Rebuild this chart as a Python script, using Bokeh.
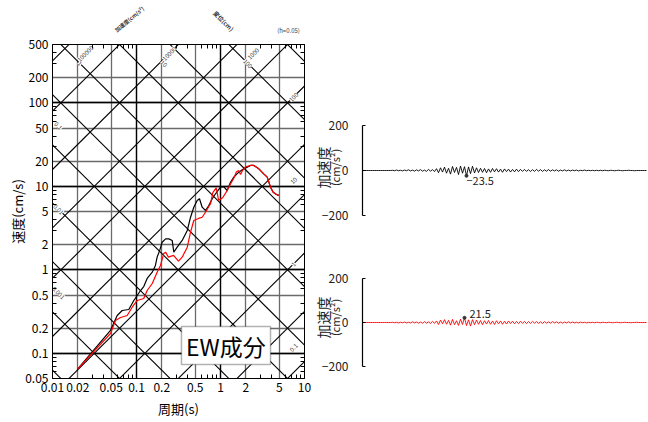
import math
import numpy as np
from bokeh.plotting import figure
from bokeh.models import FixedTicker, LogAxis, LinearAxis, Label, BoxAnnotation, Grid
from bokeh.layouts import row, column
from bokeh.embed import file_html
from bokeh.resources import INLINE
from bokeh.core.properties import value

FONT = "Noto Sans CJK JP"

# ---------------- data ----------------
# pseudo-velocity response spectrum (h=0.05): period (s) / velocity (cm/s)
period_black = [0.02, 0.049, 0.0589, 0.0676, 0.081, 0.0929, 0.102, 0.1116, 0.122, 0.134,
                0.154, 0.168, 0.176, 0.189, 0.202, 0.222, 0.243, 0.266, 0.278, 0.305,
                0.35, 0.402, 0.44, 0.481, 0.528, 0.562, 0.605, 0.663, 0.726, 0.797,
                0.872, 1.0, 1.09, 1.2, 1.315, 1.44, 1.65, 1.89, 2.08, 2.28,
                2.49, 2.86, 3.27, 3.6, 3.94, 4.24, 4.64, 4.94]
vel_black = [0.0653, 0.188, 0.284, 0.326, 0.335, 0.43, 0.493, 0.566, 0.632, 0.789,
             0.938, 1.13, 1.42, 1.71, 2.14, 2.35, 2.35, 2.25, 1.63, 1.87,
             2.25, 2.96, 4.27, 5.63, 6.78, 7.1, 5.63, 5.14, 5.9, 7.1,
             8.15, 9.78, 9.95, 8.92, 11.2, 12.9, 14.8, 16.2, 17.0, 17.8,
             17.8, 16.2, 14.1, 12.9, 9.78, 8.5, 8.0, 7.8]
period_red = [0.02, 0.049, 0.0562, 0.0645, 0.0775, 0.0889, 0.102, 0.122, 0.134, 0.154,
              0.176, 0.193, 0.211, 0.222, 0.24, 0.276, 0.316, 0.35, 0.402, 0.44,
              0.481, 0.547, 0.605, 0.663, 0.76, 0.81, 0.89, 0.95, 1.06, 1.2,
              1.315, 1.44, 1.55, 1.65, 1.73, 1.83, 1.99, 2.28, 2.49, 2.86,
              3.27, 3.6, 3.94, 4.24, 4.64, 4.94]
vel_red = [0.0653, 0.173, 0.248, 0.269, 0.284, 0.357, 0.43, 0.454, 0.566, 0.687,
           0.938, 1.13, 1.57, 1.63, 1.42, 1.49, 1.27, 1.42, 1.87, 2.83,
           3.9, 4.13, 4.27, 4.9, 6.18, 8.4, 9.6, 6.8, 7.3, 8.9,
           10.7, 12.5, 15.0, 15.5, 13.9, 15.5, 17.1, 17.8, 17.8, 16.2,
           14.1, 12.9, 9.78, 8.5, 8.0, 7.8]

x_ticks = [0.01, 0.02, 0.05, 0.1, 0.2, 0.5, 1, 2, 5, 10]
x_tick_labels = ["0.01", "0.02", "0.05", "0.1", "0.2", "0.5", "1", "2", "5", "10"]
x_decades = [0.01, 0.1, 1, 10]
x_minor = [0.03, 0.04, 0.06, 0.07, 0.08, 0.09, 0.3, 0.4, 0.6, 0.7, 0.8, 0.9,
           3, 4, 6, 7, 8, 9]
y_ticks = [0.05, 0.1, 0.2, 0.5, 1, 2, 5, 10, 20, 50, 100, 200, 500]
y_tick_labels = ["0.05", "0.1", "0.2", "0.5", "1", "2", "5", "10", "20", "50",
                 "100", "200", "500"]
y_decades = [0.1, 1, 10, 100]
y_minor = [0.06, 0.07, 0.08, 0.09, 0.3, 0.4, 0.6, 0.7, 0.8, 0.9, 3, 4, 6, 7, 8, 9,
           30, 40, 60, 70, 80, 90, 300, 400]

# tripartite grid: acceleration (cm/s2) and displacement (cm) lines
accel_lines = [0.01, 0.05, 0.2, 1, 5, 20, 100, 500, 2000, 10000, 50000, 200000, 1000000]
disp_lines = [0.0001, 0.0005, 0.002, 0.01, 0.05, 0.2, 1, 5, 20, 100, 500, 2000]
disp_label_left = [0.001, 0.01, 0.1]
disp_label_left_text = ["0.001", "0.01", "0.1"]
disp_label_top = [1, 10, 100]
disp_label_top_text = ["1", "10", "100"]
accel_label_right = [0.1, 1, 10, 100]
accel_label_right_text = ["0.1", "1", "10", "100"]
accel_label_top = [100000, 10000, 1000]
accel_label_top_text = ["100000", "10000", "1000"]

# acceleration time histories (cm/s2), sampled every dt seconds
dt = 0.5
acc_black = [0, 0, 0, 0, 0, 0, 0, 0, 0, 0, 0, 0, 0, 0, 0,
             1, -1, 2, -1, 1, -2, 2, -1, 3, -2, 2, -3, 3, -2, 4, -3, 2, -4, 5, -3, 4, -5,
             8, -10, 12, -7, 15, -12, 10, -16, 18, -9, 14, -18, 20, -12, 17, -23.5, 16, -14, 19, -11,
             12, -9, 10, -8, 9, -10, 7, -8, 9, -6, 8, -7, 6, -8, 7, -5, 6, -7, 5, -6, 6, -5, 5, -4, 5, -4, 4,
             -5, 4, -4, 5, -3, 4, -4, 3, -3, 4, -3, 3, -2, 3, -3, 2, -2, 3, -2, 2, -2, 2, -1, 2, -2,
             1, -1, 2, -1, 1, -1, 1, -1, 1, -1,
             1, -1, 1, 0, -1, 1, 0, -1, 0, 1, 0, -1, 0, 0, 1, 0, 0, -1, 0, 0, 0, 0, 0, 0]
acc_red = [0, 0, 0, 0, 0, 0, 0, 0, 0, 0, 0, 0, 0, 0, 0,
           1, -1, 1, -2, 1, -1, 2, -2, 1, -2, 3, -2, 2, -3, 2, -3, 4, -3, 3, -4, 5, -4,
           7, -9, 11, -6, 13, -8, 10, -12, 14, -10, 8, -13, 15, -9, 21.5, -14, 12, -16, 13, -10,
           11, -8, 9, -10, 8, -7, 9, -8, 7, -9, 8, -6, 7, -8, 6, -7, 7, -5, 6, -6, 5, -5, 6, -4, 5, -5, 4,
           -4, 5, -3, 4, -4, 3, -4, 4, -3, 3, -3, 4, -2, 3, -3, 2, -3, 2, -2, 3, -2, 2, -2, 1, -2,
           2, -1, 1, -2, 1, -1, 1, -1, 1, 0,
           -1, 1, 0, -1, 1, 0, -1, 0, 1, 0, -1, 0, 1, 0, 0, -1, 0, 0, 1, 0, 0, 0, 0, 0]

# ---------------- header above the spectrum (titles of the diagonal scales) ----------------
ph = figure(x_axis_type="log", x_range=(0.01, 10), y_range=(0, 34), width=312, height=34,
            min_border_left=52, min_border_right=8, min_border_top=0, min_border_bottom=0,
            x_axis_location=None, y_axis_location=None, toolbar_location=None,
            output_backend="svg", background_fill_color="white", border_fill_color="white")
ph.outline_line_color = None
ph.grid.visible = False
ph.text(x=[0.0826], y=[15], text=["加速度(cm/s²)"], angle=[math.radians(40)],
        text_align="center", text_baseline="middle", text_font=value(FONT),
        text_font_size="5.5px", text_font_style="bold", text_color="#333333")
ph.text(x=[1.086], y=[13.5], text=["変位(cm)"], angle=[-math.pi / 4],
        text_align="center", text_baseline="middle", text_font=value(FONT),
        text_font_size="6px", text_font_style="bold", text_color="#333333")
ph.text(x=[6.45], y=[4.5], text=["(h=0.05)"], text_align="center", text_baseline="middle",
        text_font=value(FONT), text_font_size="6px", text_color="#444444")

# ---------------- response spectrum figure ----------------
p = figure(x_axis_type="log", y_axis_type="log", x_range=(0.01, 10), y_range=(0.05, 500),
           frame_width=252, frame_height=334, min_border_left=52, min_border_right=8,
           min_border_top=10, min_border_bottom=44, toolbar_location=None,
           output_backend="svg", background_fill_color="white", border_fill_color="white")
p.outline_line_color = "black"
p.outline_line_width = 1

p.xaxis.ticker = FixedTicker(ticks=x_ticks, minor_ticks=x_minor)
p.yaxis.ticker = FixedTicker(ticks=y_ticks, minor_ticks=y_minor)
p.xaxis.major_label_overrides = dict(zip(x_ticks, x_tick_labels))
p.yaxis.major_label_overrides = dict(zip(y_ticks, y_tick_labels))
for ax in (p.xaxis[0], p.yaxis[0]):
    ax.major_label_text_font = FONT
    ax.major_label_text_font_size = "12px"
    ax.major_label_text_color = "black"
    ax.major_tick_in = 0
    ax.major_tick_out = 0
    ax.minor_tick_in = 4
    ax.minor_tick_out = 0
    ax.axis_line_color = "black"
    ax.major_label_standoff = 4
    ax.axis_label_text_font = FONT
    ax.axis_label_text_font_size = "13px"
    ax.axis_label_text_font_style = "normal"
    ax.axis_label_text_color = "black"
p.xaxis.axis_label = "周期(s)"
p.xaxis.axis_label_standoff = 4
p.yaxis.axis_label = "速度(cm/s)"
p.yaxis.axis_label_standoff = -5

for loc, tk in (("above", FixedTicker(ticks=x_ticks, minor_ticks=x_minor)),
                ("right", FixedTicker(ticks=y_ticks, minor_ticks=y_minor))):
    extra = LogAxis(ticker=tk, major_label_text_font_size="0px",
                    major_label_text_color=None, major_tick_in=0,
                    major_tick_out=0, minor_tick_in=4, minor_tick_out=0,
                    major_label_standoff=0, axis_line_color="black")
    p.add_layout(extra, loc)

p.grid.grid_line_color = "#6a6a6a"
p.grid.grid_line_width = 1.3
p.add_layout(Grid(dimension=0, ticker=FixedTicker(ticks=x_decades),
                  grid_line_color="black", grid_line_width=1.3))
p.add_layout(Grid(dimension=1, ticker=FixedTicker(ticks=y_decades),
                  grid_line_color="black", grid_line_width=1.3))

T_ends = [0.01, 10]
xs, ys = [], []
for a in accel_lines:
    xs.append(T_ends)
    ys.append([a * t / (2 * math.pi) for t in T_ends])
for d in disp_lines:
    xs.append(T_ends)
    ys.append([2 * math.pi * d / t for t in T_ends])
p.multi_line(xs, ys, line_color="black", line_width=1.1)

# labels along the diagonal scales
lt, lv, ltx, la = [], [], [], []
for d, s in zip(disp_label_left, disp_label_left_text):
    t = 0.0118
    lt.append(t); lv.append(2 * math.pi * d / t); ltx.append(s); la.append(-math.pi / 4)
for d, s in zip(disp_label_top, disp_label_top_text):
    v = 296.0
    lt.append(2 * math.pi * d / v); lv.append(v); ltx.append(s); la.append(-math.pi / 4)
for a, s in zip(accel_label_right, accel_label_right_text):
    t = 7.4
    lt.append(t); lv.append(a * t / (2 * math.pi)); ltx.append(s); la.append(math.pi / 4)
for a, s in zip(accel_label_top, accel_label_top_text):
    v = 390.0
    lt.append(2 * math.pi * v / a); lv.append(v); ltx.append(s); la.append(math.pi / 4)
p.text(x=lt, y=lv, text=ltx, angle=la, text_align="center", text_baseline="middle",
       text_font=value(FONT), text_font_size="6px", text_color="#444444",
       background_fill_color="white")

p.line(period_black, vel_black, line_color="black", line_width=1.2)
p.line(period_red, vel_red, line_color="red", line_width=1.2)

p.add_layout(BoxAnnotation(left=0.343, right=3.94, bottom=0.0736, top=0.21,
                           fill_color="white", fill_alpha=1.0, line_color="black",
                           line_width=1.5))
p.add_layout(Label(x=1.16, y=0.124, text="EW成分", text_align="center",
                   text_baseline="middle", text_font=FONT, text_font_size="23px",
                   text_color="black"))


# ---------------- acceleration waveforms ----------------
def wave_fig(acc, color, top_b, frame_h, bottom_b, lab_y, peak_mode):
    t = [i * dt for i in range(len(acc))]
    f = figure(x_range=(-12.5, 71.5), y_range=(-240, 240), width=336,
               height=top_b + frame_h + bottom_b, min_border_left=0, min_border_right=0,
               min_border_top=top_b, min_border_bottom=bottom_b,
               x_axis_location=None, y_axis_location=None,
               toolbar_location=None, output_backend="svg",
               background_fill_color="white", border_fill_color="white")
    f.outline_line_color = None
    f.grid.visible = False
    ya = LinearAxis(fixed_location=0, ticker=FixedTicker(ticks=[-200, 0, 200]),
                    bounds=(-200, 200))
    ya.major_label_overrides = {-200: "−200", 0: "0", 200: "200"}
    ya.major_label_text_font = FONT
    ya.major_label_text_font_size = "12px"
    ya.major_label_text_color = "#222222"
    ya.major_tick_in = 3
    ya.major_tick_out = 0
    ya.minor_tick_in = 0
    ya.minor_tick_out = 0
    ya.major_label_standoff = 14
    ya.axis_line_color = "black"
    ya.axis_line_width = 1.2
    f.add_layout(ya, "left")
    f.line(t, acc, line_color=color, line_width=0.9)
    arr = np.array(acc, dtype=float)
    k = int(np.argmax(np.abs(arr)))
    pk = arr[k]
    f.scatter([t[k]], [pk], size=3, color="#333333")
    txt = f"{pk:.1f}".replace("-", "−")
    if peak_mode == "below":
        f.add_layout(Label(x=t[k], y=pk, text=txt, text_align="left", text_baseline="middle",
                           y_offset=-5, x_offset=0, text_font=FONT, text_font_size="11px",
                           text_color="#222222"))
    else:
        f.add_layout(Label(x=t[k], y=pk, text=txt, text_align="left", text_baseline="middle",
                           y_offset=4, x_offset=5, text_font=FONT, text_font_size="11px",
                           text_color="#222222"))
    f.add_layout(Label(x=10.5, y=lab_y, x_units="screen", y_units="screen", text="加速度",
                       angle=math.pi / 2, text_align="center", text_baseline="middle",
                       text_font=FONT, text_font_size="14px", text_color="#222222"))
    f.add_layout(Label(x=22, y=lab_y, x_units="screen", y_units="screen", text="(cm/s²)",
                       angle=math.pi / 2, text_align="center", text_baseline="middle",
                       text_font=FONT, text_font_size="11px", text_color="#222222"))
    return f


f1 = wave_fig(acc_black, "black", 116, 108, 20, 57, "below")
f2 = wave_fig(acc_red, "red", 25, 106, 47, 58, "above")

layout = row(column(ph, p), column(f1, f2))
open("out.html", "w").write(file_html(layout, INLINE))
